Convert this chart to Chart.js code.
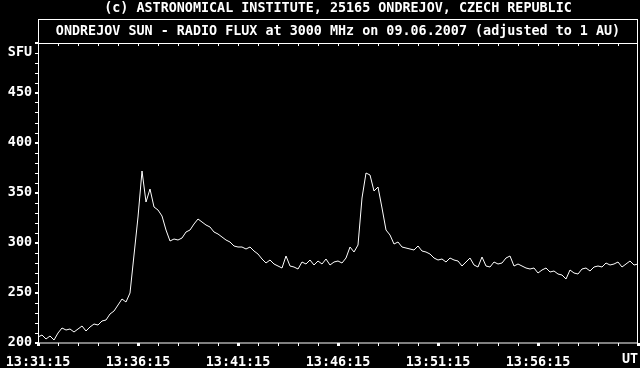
<!DOCTYPE html>
<html>
<head>
<meta charset="utf-8">
<script src="https://cdn.jsdelivr.net/npm/chart.js@4/dist/chart.umd.min.js"></script>
<style>
  html, body { margin: 0; padding: 0; background: #000; }
  #wrap { width: 640px; height: 368px; }
</style>
</head>
<body>
<div id="wrap"><canvas id="flux"></canvas></div>
<script>
// Time axis labels (every 5 minutes) and the sampled flux in SFU
const timeLabels = ['13:31:15', '13:36:15', '13:41:15', '13:46:15', '13:51:15', '13:56:15', 'UT'];
const sampleStep = 12; // seconds between samples
const sfuValues = [
  206, 208, 204, 207, 203, 210, 215, 213, 214, 211,
  214, 217, 212, 216, 219, 218, 222, 223, 229, 232,
  238, 244, 241, 250, 288, 326, 372, 341, 354, 336,
  333, 327, 313, 302, 304, 303, 305, 311, 313, 319,
  324, 321, 318, 316, 311, 309, 306, 303, 301, 297,
  296, 296, 294, 296, 292, 289, 284, 280, 283, 279,
  277, 275, 287, 277, 276, 274, 281, 279, 283, 278,
  282, 279, 284, 278, 281, 282, 280, 285, 296, 291,
  298, 345, 370, 368, 352, 356, 335, 313, 308, 299,
  301, 296, 295, 294, 293, 297, 292, 291, 289, 285,
  283, 284, 281, 285, 283, 282, 277, 281, 285, 278,
  276, 286, 277, 276, 281, 279, 280, 285, 287, 277,
  279, 277, 275, 274, 275, 270, 273, 275, 271, 272,
  269, 268, 264, 273, 270, 269, 274, 275, 272, 276,
  277, 276, 280, 278, 279, 281, 276, 279, 282, 278,
  279
];
const copyrightText = '(c) ASTRONOMICAL INSTITUTE, 25165 ONDREJOV, CZECH REPUBLIC';
const titleText = 'ONDREJOV SUN - RADIO FLUX at 3000 MHz on 09.06.2007 (adjusted to 1 AU)';

const FONT_SIZE = 13.4;
const FONT = 'bold ' + FONT_SIZE + 'px "DejaVu Sans Mono", "Liberation Mono", monospace';
const tickFont = { family: '"DejaVu Sans Mono", monospace', size: FONT_SIZE, weight: 'bold' };

// Frame, title box, top ticks and the "UT" label
const framePlugin = {
  id: 'frame',
  afterDraw(chart) {
    const { ctx, chartArea: a, scales } = chart;
    const x = scales.x;
    ctx.save();
    ctx.strokeStyle = '#fff';
    ctx.lineWidth = 1;
    ctx.strokeRect(a.left + 0.5, 19.5, a.right - a.left - 1, a.bottom - 19.5);
    ctx.beginPath();
    ctx.moveTo(a.left, a.top + 0.5);
    ctx.lineTo(a.right, a.top + 0.5);
    for (let s = 60; s < 1800; s += 60) {
      const px = Math.round(x.getPixelForValue(s)) + 0.5;
      ctx.moveTo(px, a.top);
      ctx.lineTo(px, a.top + 3);
    }
    ctx.stroke();

    ctx.fillStyle = '#fff';
    ctx.font = FONT;
    ctx.textBaseline = 'middle';
    ctx.textAlign = 'center';
    ctx.fillText(copyrightText, (a.left + a.right) / 2, 8.5);
    ctx.fillText(titleText, (a.left + a.right) / 2, 31.5);
    ctx.textAlign = 'right';
    ctx.fillText(timeLabels[6], a.right, 360);
    ctx.restore();
  }
};

new Chart(document.getElementById('flux'), {
  type: 'line',
  data: {
    datasets: [{
      data: sfuValues.map((v, i) => ({ x: i * sampleStep, y: v })),
      borderColor: '#fff',
      borderWidth: 1,
      pointRadius: 0,
      tension: 0,
      fill: false
    }]
  },
  options: {
    responsive: true,
    maintainAspectRatio: false,
    animation: false,
    events: [],
    layout: { padding: { top: 43, right: 2, left: 0, bottom: 0 } },
    plugins: {
      legend: { display: false },
      title: { display: false },
      tooltip: { enabled: false }
    },
    scales: {
      x: {
        type: 'linear',
        min: 0,
        max: 1800,
        afterFit(scale) {
          scale.height = 25;
          scale.paddingLeft = 0;
          scale.paddingRight = 0;
        },
        border: { display: false },
        grid: {
          drawOnChartArea: false,
          drawTicks: true,
          tickLength: 3,
          color: '#fff',
          lineWidth: c => (c.tick && c.tick.value % 300 === 0 ? 3 : 1)
        },
        ticks: {
          stepSize: 60,
          autoSkip: false,
          maxRotation: 0,
          color: '#fff',
          padding: 8,
          font: tickFont,
          callback: v => (v % 300 === 0 && v < 1800 ? timeLabels[v / 300] : '')
        }
      },
      y: {
        min: 200,
        max: 500,
        afterFit(scale) {
          scale.width = 38;
        },
        border: { display: false },
        grid: {
          drawOnChartArea: false,
          drawTicks: true,
          tickLength: 3,
          color: '#fff',
          lineWidth: c => (c.tick && c.tick.value % 50 === 0 ? 2 : 1)
        },
        ticks: {
          stepSize: 10,
          autoSkip: false,
          color: '#fff',
          padding: 3,
          font: tickFont,
          callback: v => {
            if (v === 490) return 'SFU';
            if (v % 50 === 0 && v < 500) return String(v);
            return '';
          }
        }
      }
    }
  },
  plugins: [framePlugin]
});
</script>
</body>
</html>
